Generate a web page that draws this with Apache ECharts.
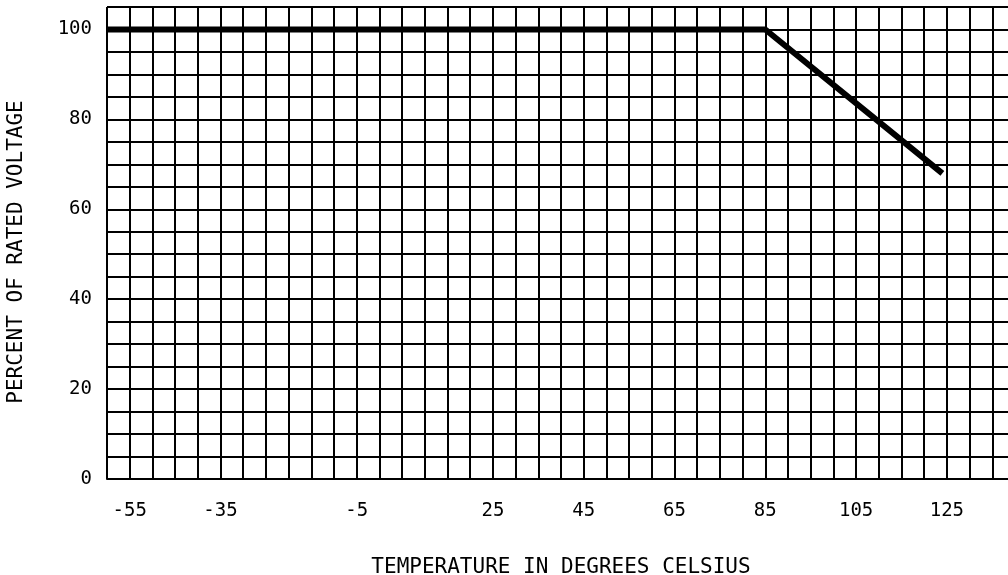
<!DOCTYPE html>
<html>
<head>
<meta charset="utf-8">
<script src="https://cdn.jsdelivr.net/npm/echarts@6/dist/echarts.min.js"></script>
<style>html,body{margin:0;padding:0;background:#fff}#c{width:1008px;height:575px}</style>
</head>
<body>
<div id="c"></div>
<script>
// Data
var temperatures = [-60, 85, 124];
var percentRated = [100, 100, 68];
var xTickLabels = [-55, -35, -5, 25, 45, 65, 85, 105, 125];
var yTickLabels = [0, 20, 40, 60, 80, 100];
var xTitle = 'TEMPERATURE IN DEGREES CELSIUS';
var yTitle = 'PERCENT OF RATED VOLTAGE';

var seriesData = temperatures.map(function (t, i) { return [t, percentRated[i]]; });
var FONT = 'DejaVu Sans Mono';

var chart = echarts.init(document.getElementById('c'), null, { renderer: 'canvas' });
chart.setOption({
  animation: false,
  backgroundColor: '#ffffff',
  grid: { left: 107, top: 7, width: 908, height: 472, containLabel: false, outerBoundsMode: 'none' },
  xAxis: {
    type: 'value',
    min: -60, max: 140, interval: 5,
    name: xTitle,
    nameLocation: 'middle',
    nameGap: 78,
    nameTextStyle: { fontFamily: FONT, fontSize: 21, color: '#000' },
    axisLine: { show: true, lineStyle: { color: '#000', width: 2 } },
    axisTick: { show: false },
    axisLabel: {
      interval: 0, margin: 23,
      fontFamily: FONT, fontSize: 19, color: '#000',
      showMinLabel: true, showMaxLabel: true,
      formatter: function (v) { return xTickLabels.indexOf(v) >= 0 ? String(v) : ''; }
    },
    splitLine: { show: true, lineStyle: { color: '#000', width: 2 } }
  },
  yAxis: {
    type: 'value',
    min: 0, max: 105, interval: 5,
    name: yTitle,
    nameLocation: 'middle',
    nameGap: 80,
    nameRotate: 90,
    nameTextStyle: { fontFamily: FONT, fontSize: 21, color: '#000', padding: [0, 18, 0, 0] },
    axisLine: { show: true, lineStyle: { color: '#000', width: 2 } },
    axisTick: { show: false },
    axisLabel: {
      interval: 0, margin: 15,
      fontFamily: FONT, fontSize: 19, color: '#000',
      padding: [6, 0, 0, 0],
      formatter: function (v) { return yTickLabels.indexOf(v) >= 0 ? String(v) : ''; }
    },
    splitLine: { show: true, lineStyle: { color: '#000', width: 2 } }
  },
  series: [{
    type: 'line',
    data: seriesData,
    symbol: 'none',
    lineStyle: { color: '#000', width: 6 },
    clip: true
  }]
});
</script>
</body>
</html>
